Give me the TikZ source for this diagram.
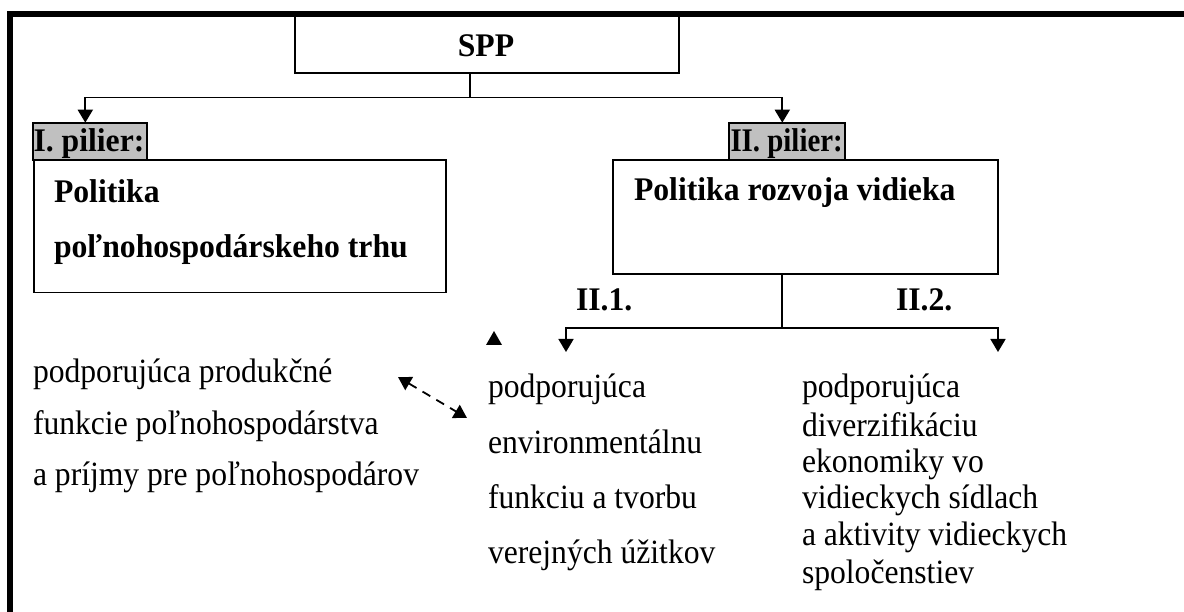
\documentclass[tikz,border=0pt]{standalone}
\usepackage{fontspec}
\usepackage{graphicx}
\setmainfont{Liberation Serif}
\usetikzlibrary{arrows.meta}
\definecolor{tagfill}{HTML}{C0C0C0}
\newcommand\sqz[2][0.93]{\scalebox{#1}[1]{#2}}
\begin{document}
\begin{tikzpicture}[x=1pt,y=-1pt,
  every node/.style={font=\fontsize{34}{40}\selectfont, inner sep=0pt, outer sep=0pt},
  box/.style={draw, line width=1.8pt, anchor=north west},
  tag/.style={draw, line width=2pt, fill=tagfill, anchor=north west},
  conn/.style={line width=1.8pt},
  arr/.style={conn, -{Triangle[length=13pt,width=15pt]}},
  txt/.style={anchor=base west},
  hd/.style={anchor=base west, font=\fontsize{33}{40}\selectfont\bfseries}
]
\useasboundingbox (0,0) rectangle (1184,612);
% frame
\draw[line width=6pt] (10.3,620) -- (10.3,13.7) -- (1190,13.7);

% SPP
\node[box, minimum width=384pt, minimum height=59.6pt] (spp) at (295,13.7) {};
\node[hd, anchor=base] (spptxt) at (486,57) {\sqz[0.96]{SPP}};

% pillars
\node[tag, minimum width=114pt, minimum height=37.3pt] (t1) at (32.7,122.7) {};
\node[hd] (t1txt) at (33.5,151.7) {\sqz[0.96]{I. pilier:}};
\node[tag, minimum width=115.5pt, minimum height=37.3pt] (t2) at (729,122.7) {};
\node[hd] (t2txt) at (730.5,151.7) {\sqz[0.875]{II. pilier:}};

\node[box, minimum width=411.7pt, minimum height=132.5pt] (lbox) at (34.3,160) {};
\node[hd] (lb1) at (54,203) {\sqz[0.96]{Politika}};
\node[hd] (lb2) at (54,258) {\sqz[0.96]{poľnohospodárskeho trhu}};

\node[box, minimum width=385pt, minimum height=114pt] (rbox) at (613,160) {};
\node[hd] (rb1) at (634,201) {\sqz[0.96]{Politika rozvoja vidieka}};

% connectors from SPP
\coordinate (j1) at (470,97.5);
\coordinate (a1) at (85.3,122.7);
\coordinate (a2) at (782.3,122.7);
\draw[conn] (spp.south -| j1) -- (j1);
\draw[arr] (j1) -| (a1);
\draw[arr] (j1) -| (a2);

% II.1 / II.2
\node[hd] (l21) at (576,311) {\sqz[0.96]{II.1.}};
\node[hd] (l22) at (896,311) {\sqz[0.96]{II.2.}};
\coordinate (j2) at (782,328);
\coordinate (b1) at (566,352);
\coordinate (b2) at (998,352);
\draw[conn] (rbox.south -| j2) -- (j2);
\draw[arr] (j2) -| (b1);
\draw[arr] (j2) -| (b2);

% left column
\node[txt] (l1) at (33,383) {\sqz{podporujúca produkčné}};
\node[txt] (l2) at (33,434) {\sqz{funkcie poľnohospodárstva}};
\node[txt] (l3) at (33,485) {\sqz{a príjmy pre poľnohospodárov}};

% middle column
\node[txt] (m1) at (488,398) {\sqz{podporujúca}};
\node[txt] (m2) at (488,453) {\sqz{environmentálnu}};
\node[txt] (m3) at (488,508) {\sqz{funkciu a tvorbu}};
\node[txt] (m4) at (488,563) {\sqz{verejných úžitkov}};

% right column
\node[txt] (r1) at (802,398) {\sqz{podporujúca}};
\node[txt] (r2) at (802,436) {\sqz{diverzifikáciu}};
\node[txt] (r3) at (802,472) {\sqz{ekonomiky vo}};
\node[txt] (r4) at (802,508) {\sqz{vidieckych sídlach}};
\node[txt] (r5) at (802,545) {\sqz{a aktivity vidieckych}};
\node[txt] (r6) at (802,583) {\sqz{spoločenstiev}};

% dashed double arrow
\coordinate (d1) at (398,377);
\coordinate (d2) at (467,418);
\draw[conn, dash pattern=on 9pt off 7pt, {Triangle[length=13pt,width=15pt]}-{Triangle[length=13pt,width=15pt]}] (d1) -- (d2);

% lone arrowhead
\fill (486,345) -- (502,345) -- (494,331) -- cycle;
\end{tikzpicture}
\end{document}
